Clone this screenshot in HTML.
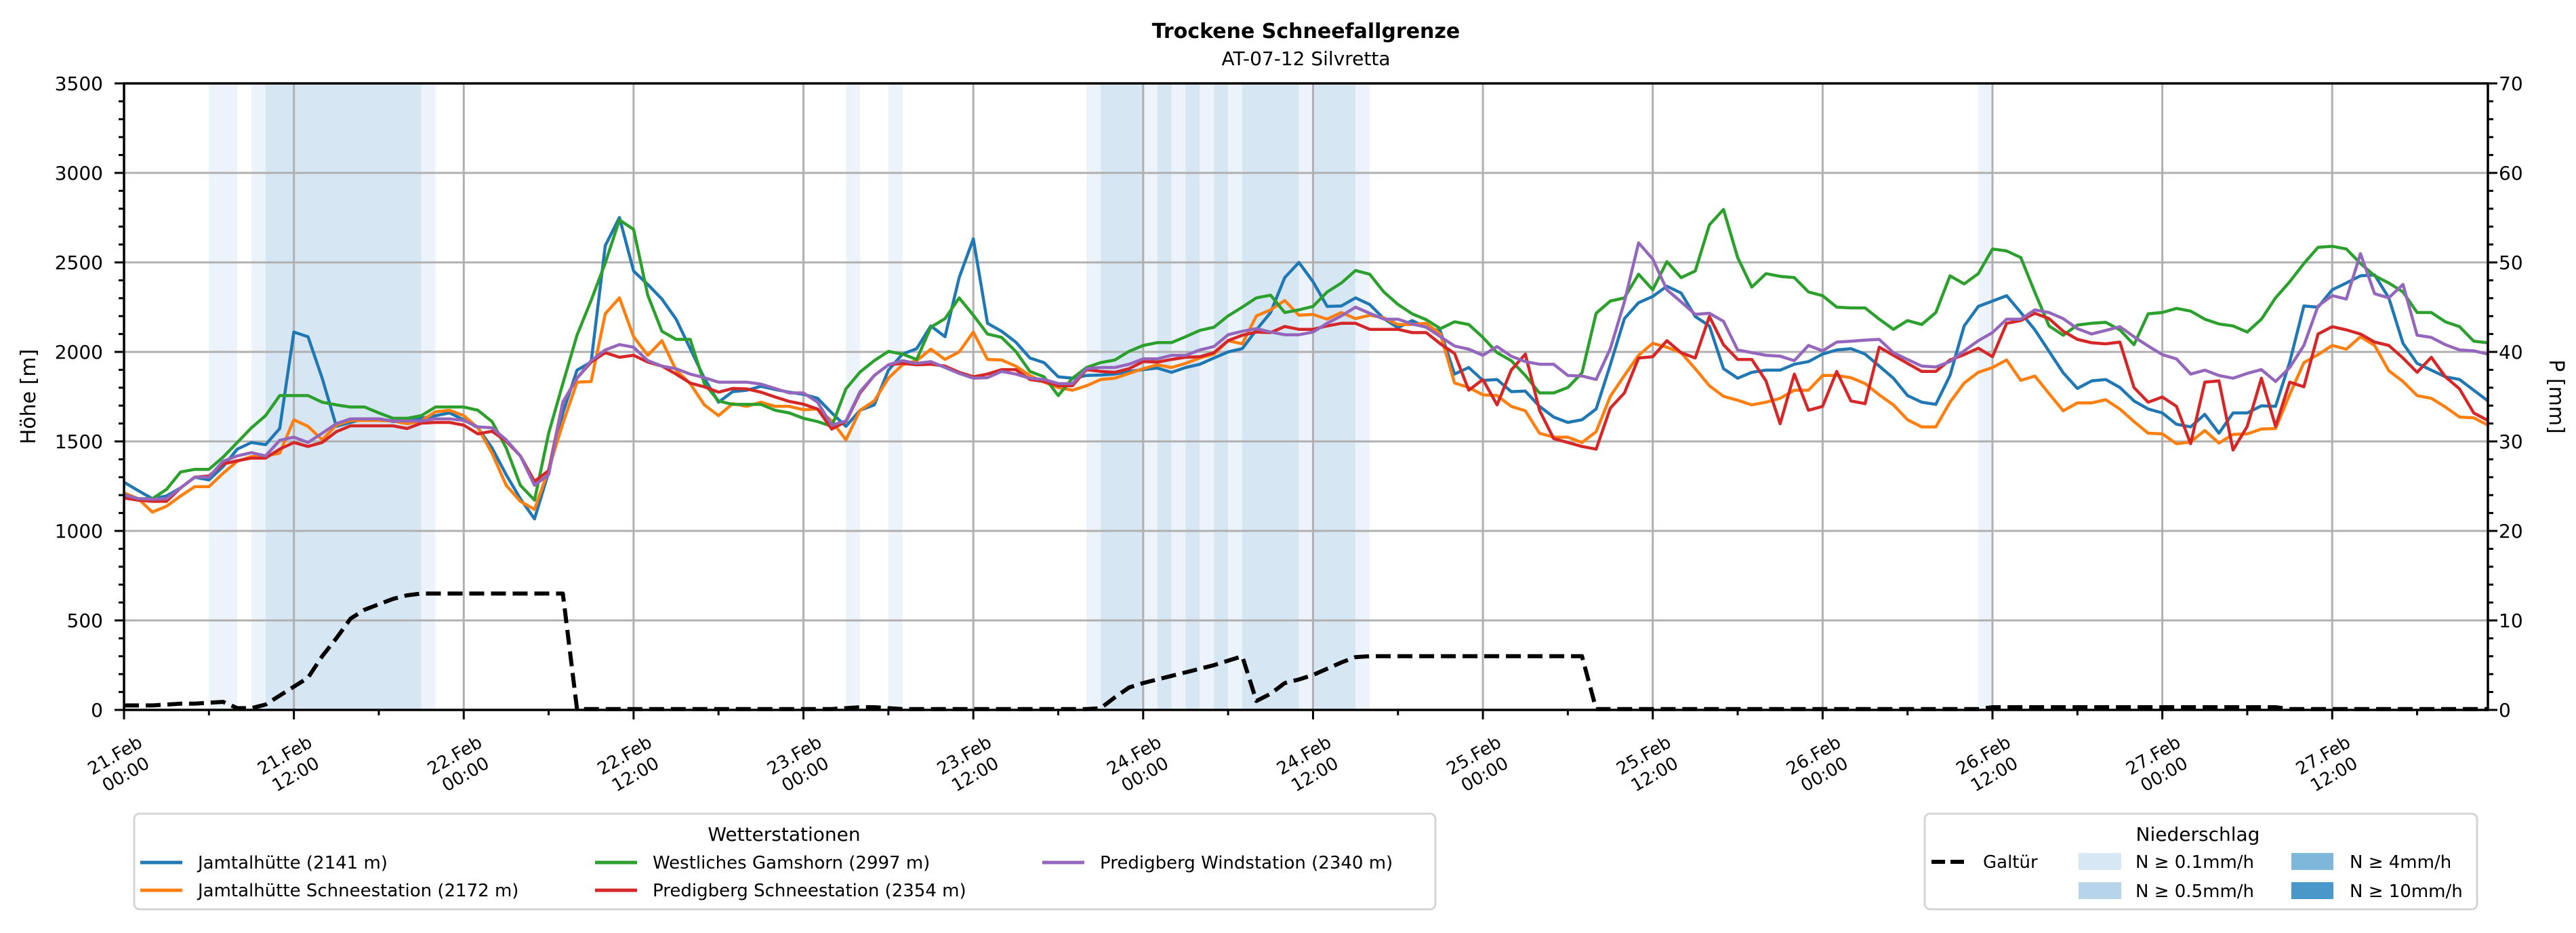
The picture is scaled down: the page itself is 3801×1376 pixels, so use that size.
<!DOCTYPE html>
<html><head><meta charset="utf-8"><style>
html,body{margin:0;padding:0;background:#fff;}
svg text{font-family:"DejaVu Sans","Liberation Sans",sans-serif;}
</style></head><body>
<svg id="chart" xmlns="http://www.w3.org/2000/svg" width="3801" height="1371" viewBox="0 0 3801 1371">
<rect width="3801" height="1371" fill="#fff"/>
<g id="bands"></g>
<g id="grid"></g>
<g id="series"></g>
<g id="axes"></g>
<text x="1927" y="56" text-anchor="middle" font-size="30" font-weight="bold">Trockene Schneefallgrenze</text>
<text x="1927" y="96" text-anchor="middle" font-size="28">AT-07-12 Silvretta</text>
<text transform="translate(52,585) rotate(-90)" text-anchor="middle" font-size="30">Höhe [m]</text>
<text transform="translate(3762,585) rotate(90)" text-anchor="middle" font-size="30">P [mm]</text>

<g>
<rect x="198" y="1200" width="1920" height="141" rx="8" fill="#fff" stroke="#d4d4d4" stroke-width="3"/>
<text x="1157" y="1240" text-anchor="middle" font-size="28">Wetterstationen</text>
<g><line x1="207" y1="1272" x2="269" y2="1272" stroke="#1f77b4" stroke-width="5"/><text x="292" y="1281" font-size="26">Jamtalhütte (2141 m)</text></g>
<g><line x1="207" y1="1313" x2="269" y2="1313" stroke="#ff7f0e" stroke-width="5"/><text x="292" y="1322" font-size="26">Jamtalhütte Schneestation (2172 m)</text></g>
<g><line x1="878" y1="1272" x2="940" y2="1272" stroke="#2ca02c" stroke-width="5"/><text x="963" y="1281" font-size="26">Westliches Gamshorn (2997 m)</text></g>
<g><line x1="878" y1="1313" x2="940" y2="1313" stroke="#d62728" stroke-width="5"/><text x="963" y="1322" font-size="26">Predigberg Schneestation (2354 m)</text></g>
<g><line x1="1538" y1="1272" x2="1600" y2="1272" stroke="#9467bd" stroke-width="5"/><text x="1623" y="1281" font-size="26">Predigberg Windstation (2340 m)</text></g>
</g>

<g>
<rect x="2840" y="1200" width="815" height="141" rx="8" fill="#fff" stroke="#d4d4d4" stroke-width="3"/>
<text x="3243" y="1240" text-anchor="middle" font-size="28">Niederschlag</text>
<g><line x1="2850" y1="1271" x2="2902" y2="1271" stroke="#000" stroke-width="6" stroke-dasharray="20,8"/><text x="2926" y="1280" font-size="26">Galtür</text></g>
<g><rect x="3067" y="1258" width="63" height="25" fill="#d8e7f4"/><text x="3151" y="1280" font-size="26">N ≥ 0.1mm/h</text></g>
<g><rect x="3067" y="1301" width="63" height="25" fill="#b7d4ea"/><text x="3151" y="1323" font-size="26">N ≥ 0.5mm/h</text></g>
<g><rect x="3381" y="1258" width="62" height="25" fill="#7db8da"/><text x="3467" y="1280" font-size="26">N ≥ 4mm/h</text></g>
<g><rect x="3381" y="1301" width="62" height="25" fill="#4a98c9"/><text x="3467" y="1323" font-size="26">N ≥ 10mm/h</text></g>
</g>
</svg>
<script>
// ---- data ----
const hourLabelsDay = ["21.Feb","22.Feb","23.Feb","24.Feb","25.Feb","26.Feb","27.Feb"];
const yTicks = [0,500,1000,1500,2000,2500,3000,3500];
const y2Ticks = [0,10,20,30,40,50,60,70];
const bandStart = [6,9,10,21,51,54,68,69,72,73,74,75,76,77,78,79,83,84,87,131];
const bandEnd   = [8,10,21,22,52,55,69,72,73,74,75,76,77,78,79,83,84,87,88,132];
const bandLevel = [1,1,2,1,1,1,1,2,1,2,1,2,1,2,1,2,1,2,1,1];
const jamtal = [1272,1225,1180,1195,1240,1300,1285,1360,1457,1494,1482,1572,2111,2085,1853,1584,1606,1626,1626,1611,1611,1629,1644,1659,1621,1576,1464,1314,1180,1067,1329,1659,1898,1943,2594,2751,2452,2377,2295,2183,2018,1853,1719,1778,1786,1808,1790,1775,1763,1741,1659,1584,1674,1704,1898,1988,
2018,2145,2085,2415,2632,2160,2115,2055,1966,1940,1861,1853,1868,1871,1876,1891,1901,1910,1886,1913,1931,1966,2000,2018,2123,2220,2415,2500,2392,2254,2257,2302,2265,2186,2135,2175,2138,2115,1876,1913,1841,1846,1778,1781,1696,1636,1606,1621,1681,1928,2186,2275,2310,2367,2329,2198,
2145,1906,1853,1886,1898,1898,1931,1946,1988,2011,2018,1988,1921,1853,1756,1719,1707,1868,2145,2254,2284,2314,2220,2123,2003,1883,1796,1838,1846,1801,1726,1681,1659,1596,1581,1651,1546,1659,1659,1699,1696,1943,2257,2250,2347,2385,2425,2430,2302,2048,1936,1898,1861,1846,1786,1726];
const jamtalSchnee = [1213,1180,1105,1138,1195,1247,1247,1322,1389,1416,1419,1434,1621,1584,1509,1591,1617,1617,1617,1614,1599,1614,1666,1674,1644,1576,1434,1255,1165,1120,1344,1600,1831,1834,2213,2302,2085,1981,2063,1898,1823,1704,1644,1711,1696,1719,1696,1696,1677,1681,1614,1509,1674,1726,1853,1928,
1951,2015,1958,2000,2111,1958,1955,1921,1868,1831,1801,1786,1811,1846,1853,1880,1906,1928,1913,1936,1966,1988,2063,2045,2201,2235,2287,2205,2209,2183,2220,2186,2205,2190,2153,2153,2160,2100,1826,1801,1760,1756,1696,1671,1546,1524,1524,1494,1554,1752,1868,1981,2048,2026,1996,1906,
1811,1752,1730,1704,1719,1741,1786,1786,1868,1868,1856,1823,1760,1704,1621,1581,1581,1719,1826,1886,1913,1955,1841,1865,1767,1671,1715,1715,1733,1681,1611,1546,1542,1487,1497,1561,1491,1539,1542,1569,1572,1763,1940,1985,2036,2015,2085,2036,1895,1835,1756,1741,1692,1636,1632,1591];
const gamshorn = [1202,1180,1180,1232,1329,1344,1344,1412,1494,1576,1644,1756,1756,1756,1719,1704,1692,1692,1659,1629,1629,1644,1692,1692,1692,1674,1611,1464,1255,1172,1546,1823,2093,2287,2497,2737,2684,2317,2115,2070,2070,1823,1726,1707,1707,1707,1674,1659,1629,1611,1584,1793,1888,1951,2003,1988,
1958,2138,2186,2302,2205,2100,2081,2003,1891,1861,1756,1853,1913,1940,1955,2003,2036,2052,2052,2085,2120,2138,2201,2250,2302,2317,2220,2235,2254,2335,2385,2455,2434,2335,2265,2213,2180,2130,2168,2153,2081,1996,1951,1868,1771,1771,1801,1883,2216,2284,2302,2434,2347,2504,2415,2452,
2710,2796,2527,2362,2437,2422,2415,2335,2314,2250,2246,2246,2183,2126,2175,2153,2220,2425,2380,2437,2575,2564,2527,2332,2145,2093,2150,2160,2165,2123,2040,2213,2220,2243,2228,2183,2156,2145,2111,2183,2302,2392,2494,2584,2590,2575,2494,2425,2385,2335,2220,2220,2168,2141,2060,2051];
const predigSchnee = [1184,1172,1165,1165,1240,1300,1307,1374,1392,1407,1407,1457,1494,1472,1494,1554,1587,1587,1587,1587,1572,1602,1606,1606,1591,1542,1557,1501,1419,1277,1337,1719,1853,1943,1996,1970,1981,1943,1921,1876,1826,1805,1775,1796,1793,1775,1748,1723,1708,1681,1569,1611,1771,1868,1928,1936,
1928,1931,1921,1886,1861,1876,1901,1901,1846,1835,1811,1811,1901,1891,1886,1906,1946,1943,1958,1970,1973,1996,2063,2093,2111,2108,2142,2126,2126,2145,2160,2160,2126,2126,2126,2108,2108,2045,1991,1786,1846,1704,1898,1988,1674,1516,1494,1472,1457,1686,1771,1966,1973,2063,1996,1966,
2198,2040,1958,1958,1838,1599,1876,1674,1696,1891,1726,1711,2026,1981,1936,1891,1891,1955,1985,2021,1973,2160,2175,2216,2186,2115,2070,2051,2045,2055,1801,1719,1748,1696,1487,1831,1838,1452,1584,1853,1584,1831,1805,2100,2141,2123,2100,2055,2036,1966,1886,1970,1861,1793,1659,1617];
const predigWind = [1202,1180,1177,1180,1240,1300,1300,1389,1419,1437,1419,1506,1524,1494,1546,1599,1626,1626,1626,1614,1614,1614,1626,1626,1617,1581,1576,1509,1419,1255,1314,1719,1853,1951,2011,2041,2026,1951,1921,1906,1876,1856,1831,1831,1831,1820,1796,1771,1771,1719,1591,1614,1778,1868,1928,1951,
1936,1946,1913,1880,1853,1856,1891,1876,1853,1846,1823,1823,1906,1913,1913,1931,1961,1961,1981,1981,2011,2030,2096,2115,2130,2111,2096,2096,2111,2160,2201,2250,2216,2183,2183,2156,2138,2085,2033,2015,1981,2030,1976,1946,1931,1931,1868,1865,1846,2018,2280,2609,2519,2347,2280,2210,
2216,2171,2011,1996,1981,1976,1951,2036,2006,2055,2060,2066,2070,1996,1958,1921,1916,1946,2006,2063,2108,2183,2183,2235,2220,2186,2130,2100,2120,2141,2085,2033,1985,1961,1876,1898,1868,1853,1880,1901,1835,1913,2036,2257,2314,2295,2549,2325,2302,2377,2093,2081,2040,2011,2006,1988];
const galtuerMM = [0.5,0.5,0.5,0.6,0.7,0.7,0.8,0.9,0.2,0.2,0.6,1.6,2.6,3.6,6.0,8.0,10.2,11.2,11.8,12.4,12.8,13,13,13,13,13,13,13,13,13,13,13,0.1,0.1,0.1,0.1,0.1,0.1,0.1,0.1,0.1,0.1,0.1,0.1,0.1,0.1,0.1,0.1,0.1,0.1,0.1,0.2,0.3,0.3,0.2,0.1,
0.1,0.1,0.1,0.1,0.1,0.1,0.1,0.1,0.1,0.1,0.1,0.1,0.1,0.2,1.4,2.5,3.0,3.4,3.8,4.2,4.6,5.0,5.5,6.0,1.0,1.8,3.0,3.4,3.9,4.6,5.3,5.9,6.0,6.0,6.0,6.0,6.0,6.0,6.0,6.0,6.0,6.0,6.0,6.0,6.0,6.0,6.0,6.0,0.1,0.1,0.1,0.1,0.1,0.1,0.1,0.1,
0.1,0.1,0.1,0.1,0.1,0.1,0.1,0.1,0.1,0.1,0.1,0.1,0.1,0.1,0.1,0.1,0.1,0.1,0.1,0.1,0.3,0.3,0.3,0.3,0.3,0.3,0.3,0.3,0.3,0.3,0.3,0.3,0.3,0.3,0.3,0.3,0.3,0.3,0.3,0.3,0.3,0.1,0.1,0.1,0.1,0.1,0.1,0.1,0.1,0.1,0.1,0.1,0.1,0.1,0.1,0.1];

// ---- scales ----
const X0=183, X1=3671, Y0=1047, YT=123, HMAX=167;
const xs = h => X0 + h*(X1-X0)/HMAX;
const ys = v => Y0 - v*(Y0-YT)/3500;
const ys2 = v => Y0 - v*(Y0-YT)/70;
const NS="http://www.w3.org/2000/svg";
function mk(tag, attrs, parent){const e=document.createElementNS(NS,tag);for(const k in attrs)e.setAttribute(k,attrs[k]);parent.appendChild(e);return e;}

const bandsG=document.getElementById('bands');
bandStart.forEach((s,i)=>{
  const r=mk('rect',{x:xs(s),y:YT,width:xs(bandEnd[i])-xs(s),height:Y0-YT,fill:bandLevel[i]===2?'#d6e6f3':'#edf3fa'},bandsG);
  
  
});

const gridG=document.getElementById('grid');
for(let h=12;h<HMAX;h+=12){
  const l=mk('line',{x1:xs(h),x2:xs(h),y1:YT,y2:Y0,stroke:'#b0b0b0','stroke-width':3},gridG);
  
  
}
yTicks.forEach(v=>{
  const l=mk('line',{x1:X0,x2:X1,y1:ys(v),y2:ys(v),stroke:'#b0b0b0','stroke-width':3},gridG);
  
  
});

const seriesG=document.getElementById('series');
function line(vals, scale, color, name, dash, w){
  const d=vals.map((v,i)=>(i?'L':'M')+xs(i).toFixed(1)+','+scale(v).toFixed(1)).join('');
  const p=mk('path',{d:d,fill:'none',stroke:color,'stroke-width':w,'stroke-linejoin':'round'},seriesG);
  if(dash)p.setAttribute('stroke-dasharray',dash);
  
  
}
line(jamtal, ys, '#1f77b4', 'line-jamtalhuette', null, 4.5);
line(jamtalSchnee, ys, '#ff7f0e', 'line-jamtalhuette-schnee', null, 4.5);
line(gamshorn, ys, '#2ca02c', 'line-gamshorn', null, 4.5);
line(predigSchnee, ys, '#d62728', 'line-predigberg-schnee', null, 4.5);
line(predigWind, ys, '#9467bd', 'line-predigberg-wind', null, 4.5);
line(galtuerMM, ys2, '#000', 'line-galtuer', '22,10', 6);

const ax=document.getElementById('axes');
mk('rect',{x:X0,y:YT,width:X1-X0,height:Y0-YT,fill:'none',stroke:'#000','stroke-width':3.5},ax);
for(let v=0;v<=3500;v+=100){
  const major=v%500===0;
  mk('line',{x1:X0,x2:X0-(major?14:8),y1:ys(v),y2:ys(v),stroke:'#000','stroke-width':3},ax);
}
yTicks.forEach(v=>{
  const t=mk('text',{x:152,y:ys(v)+10,'text-anchor':'end','font-size':28},ax);
  t.textContent=v;
  
  
});
for(let v=0;v<=70;v+=2){
  const major=v%10===0;
  mk('line',{x1:X1,x2:X1+(major?14:8),y1:ys2(v),y2:ys2(v),stroke:'#000','stroke-width':3},ax);
}
y2Ticks.forEach(v=>{
  const t=mk('text',{x:3687,y:ys2(v)+10,'font-size':28},ax);
  t.textContent=v;
  
  
});
for(let h=0;h<=HMAX;h+=6){
  const major=h%12===0;
  mk('line',{x1:xs(h),x2:xs(h),y1:Y0,y2:Y0+(major?14:8),stroke:'#000','stroke-width':3},ax);
  if(major){
    const g=mk('g',{transform:`translate(${xs(h)-6},1127) rotate(-30)`},ax);
    
    
    const t1=mk('text',{x:0,y:-6,'text-anchor':'middle','font-size':26},g);
    t1.textContent=hourLabelsDay[Math.floor(h/24)];
    const t2=mk('text',{x:0,y:26,'text-anchor':'middle','font-size':26},g);
    t2.textContent=(h%24===0)?'00:00':'12:00';
  }
}
</script>
</body></html>
